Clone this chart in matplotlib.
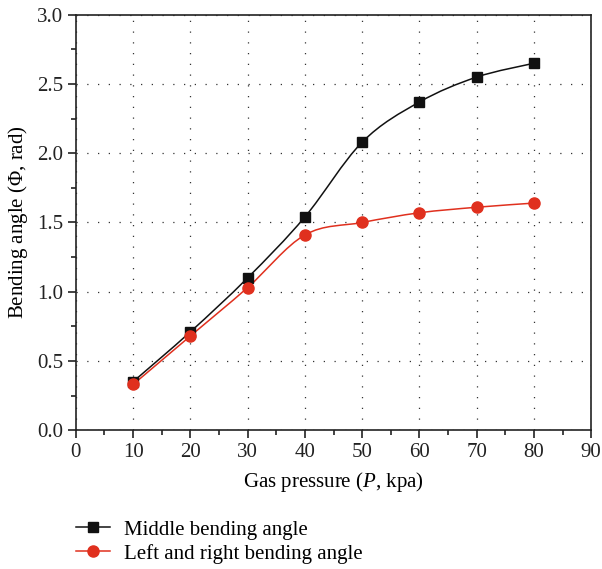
import matplotlib
matplotlib.use("Agg")
from matplotlib import pyplot as plt
from matplotlib.path import Path
from matplotlib.patches import PathPatch
from matplotlib.lines import Line2D
from matplotlib.ticker import MultipleLocator
import numpy as np

plt.rcParams['font.family'] = ['Liberation Serif', 'DejaVu Serif']
plt.rcParams['mathtext.fontset'] = 'custom'
plt.rcParams['mathtext.rm'] = 'Liberation Serif'
plt.rcParams['mathtext.it'] = 'Liberation Serif:italic'

pressure = [10, 20, 30, 40, 50, 60, 70, 80]
middle_angle = [0.35, 0.71, 1.10, 1.54, 2.08, 2.37, 2.55, 2.65]
side_angle = [0.33, 0.68, 1.03, 1.41, 1.50, 1.57, 1.61, 1.64]

black = '#111111'
red = '#e0301e'
fs = 15


def smooth_path(ax, xs, ys, color):
    # Catmull-Rom segments drawn as cubic bezier curves
    xs = np.asarray(xs, float)
    ys = np.asarray(ys, float)
    verts = [(xs[0], ys[0])]
    codes = [Path.MOVETO]
    n = len(xs)
    for i in range(n - 1):
        p0 = np.array([xs[max(i - 1, 0)], ys[max(i - 1, 0)]])
        p1 = np.array([xs[i], ys[i]])
        p2 = np.array([xs[i + 1], ys[i + 1]])
        p3 = np.array([xs[min(i + 2, n - 1)], ys[min(i + 2, n - 1)]])
        c1 = p1 + (p2 - p0) / 6
        c2 = p2 - (p3 - p1) / 6
        verts += [tuple(c1), tuple(c2), tuple(p2)]
        codes += [Path.CURVE4] * 3
    patch = PathPatch(Path(verts, codes), facecolor='none', edgecolor=color, lw=1.1, zorder=3)
    ax.add_patch(patch)


fig = plt.figure(figsize=(6.02, 5.69), dpi=100)
ax = fig.add_axes([0.126, 0.244, 0.856, 0.730])

smooth_path(ax, pressure, middle_angle, black)
smooth_path(ax, pressure, side_angle, red)
ax.plot(pressure, middle_angle, ls='none', marker='s', ms=7.5, color=black, zorder=4)
ax.plot(pressure, side_angle, ls='none', marker='o', ms=8, color=red, zorder=4)

ax.set_xlim(0, 90)
ax.set_ylim(0, 3.0)
ax.xaxis.set_major_locator(MultipleLocator(10))
ax.xaxis.set_minor_locator(MultipleLocator(5))
ax.yaxis.set_major_locator(MultipleLocator(0.5))
ax.yaxis.set_minor_locator(MultipleLocator(0.25))
ax.yaxis.set_major_formatter(matplotlib.ticker.FormatStrFormatter('%.1f'))

ax.grid(True, which='major', color='#333333', linestyle=(0, (1, 7.6)), linewidth=0.9)
ax.set_axisbelow(True)

for s in ax.spines.values():
    s.set_linewidth(1.2)
    s.set_color('#222222')
ax.tick_params(which='major', direction='out', length=6, width=1.2, labelsize=fs, colors='#222222', pad=3)
ax.tick_params(which='minor', direction='out', length=3.5, width=1.2, colors='#222222')

ax.set_xlabel('Gas pressure ($\\mathit{P}$, kpa)', fontsize=fs, labelpad=6)
ax.set_ylabel('Bending angle ($\\mathit{Φ}$, rad)', fontsize=fs, labelpad=5)

handles = [
    Line2D([], [], color=black, lw=1.1, marker='s', ms=7.5),
    Line2D([], [], color=red, lw=1.1, marker='o', ms=8),
]
fig.legend(handles, ['Middle bending angle', 'Left and right bending angle'],
           loc='upper left', bbox_to_anchor=(0.126, 0.086), frameon=False,
           fontsize=fs, handlelength=1.65, handletextpad=0.67, labelspacing=0.2,
           borderaxespad=0, borderpad=0)

fig.savefig('out.png', dpi=100)
